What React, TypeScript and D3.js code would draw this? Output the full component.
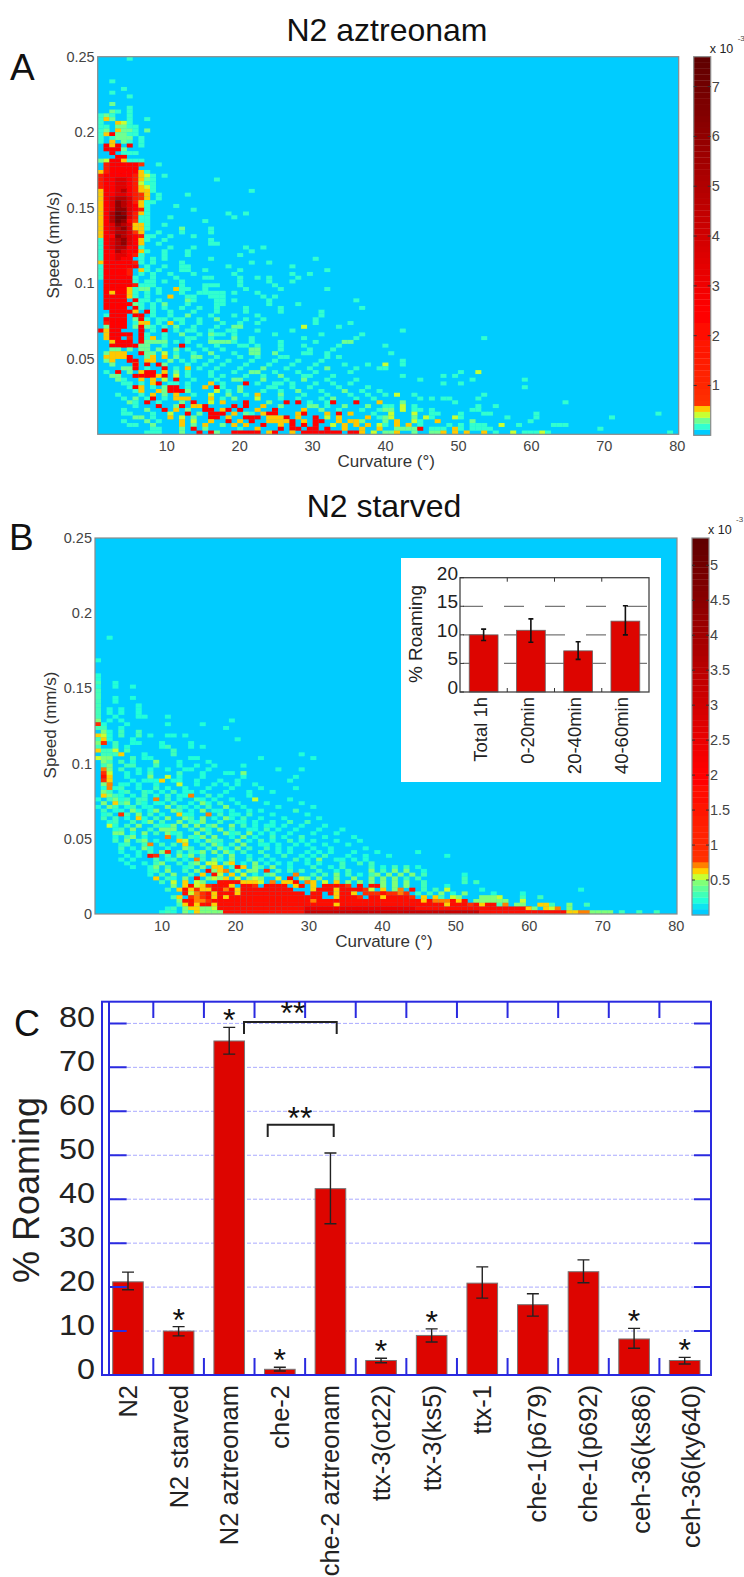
import React from 'react';
import * as d3 from 'd3';

// heatmap rows, top row first. each row is "column:levels" pieces, '.' leaves a cell empty
const aztreonamRows = [
  "5:1", "", "", "", "", "", "2:1", "", "4:1", "2:1",
  "5:1", "", "2:2", "5:1", "2:21.1", "0:121..1", "0:142..1..1", "0:1..431", "0:11.2211", "0:12.4221.2",
  "0:1472211", "0:1.1222.1", "0:1.4.21.1", "1:747.7.1", "1:7772", "2:7.111", "3:77", "0:23774111", "0:.6777775..1", "0:.677777",
  "0:46777774 8:1", "0:6777776431 11:1", "0:6778876421 20:1", "0:6778876311", "0:6778876431 9:1", "0:4778976441 26:1", "0:477887654 10:1 15:1", "0:478998654 10:1", "0:478a98641 9:1", "0:478a98741 13:1",
  "0:478aa8761 16:1", "0:479ba8641 22:1 25:1", "0:479bb8611 12:1 23:1", "0:479ba7511 18:1", "0:478a98441 11:1", "0:4789a8441 14:2 19:1", "0:47899854 10:1 14:1 19:1", "0:477a987611 12:1 16:1", "0:1789a8741 11:1 19:1", "0:1789a874 10:1 19:11",
  "0:17899771 12:1 16:1 25:1 28:1", "0:177987741 11:1 15:1 26:1", "0:17788764 7:1 11:1 15:1 24:1", "0:177877 7:1 9:1 11:1 19:1 37:1", "0:477777 6:61 9:1 14:1 26:1 29:1", "0:177777 6:7 8:1 11:1 14:11 22:1 33:1", "0:17777 5:6 7:41 10:1 14:11 18:1 24:1 39:1", "0:177776 7:1.1 12:1 16:1 23:1 33:1 36:1", "0:177777 6:1..1 13:1 18:11 24:1 27:1 29:1 34:1", "0:.77777 6:1.11 11:1 14:1 24:1 29:1 33:1",
  "0:.77777 6:611 9:1 14:1 18:11 20:1 24:1 30:1", "0:.7777 5:4 6:1 7:22 10:1 13:4 14:11 18:1 25:1 31:1 39:1", "0:.7477 5:4 6:1 8:1 10:1 14:1 17:11111 23:1 27:1", "0:.7777 5:4 6:1 8:1 12:4 15:11 19:111 28:1 30:1", "0:.7777 6:71 8:1 10:1 15:21 20:11 23:1 29:1 44:1", "0:.77777 6:21 9:1 11:2 15:1 20:11 29:1 34:1", "0:.7777 6:71 9:1 11:1 14:1 17:1 20:1 25:1 31:1 45:1", "0:..7777 6:4.71 9:1 12:1 16:1 20:1 25:1 31:1 38:1", "0:.1777 6:7 7:7 9:1 12:1 15:2 19:1 23:1 27:1 38:1", "0:.7777 6:271 10:1 11:1 13:11 17:1 20:2 25:1 28:1 37:1",
  "0:.6777 6:144 10:1 12:4 14:1 17:1 21:1 24:1 27:1 37:1 43:1", "0:.2777 6:27 8:21 11:1 13:2 16:1 20:1 23:22 35:3 41:1", "0:7477 6:.7.1 11:7 13:1 15:11 19:1 22:11 27:1 33:1 52:1", "0:.47777 7:71 11:1 14:2 17:1 19:211 23:1 30:1 38:1 45:1", "0:.477 5:6 7:714 11:1 15:11 19:1 23:2 26:1 35:1 44:1 66:1", "0:..4777 6:.72 9:222 13:1 15:1 19:2222 23:1 26:1 31:1 37:1 42:22", "0:..7777 6:7 7:22 11:1 14:7 17:1 20:1 24:11 27:1 31:1 35:1 41:1 49:1", "0:..22 5:2 7:22 10:2 13:2 15:1 18:1 21:1 26:22 31:1 36:1 40:1", "0:.2444 7:7 8:22 11:3 13:1 16:1 19:2 23:1 26:22 30:2 35:11 39:1 50:1", "0:.444 4:4 5:7 8:24 11:4 13:2 16:22 20:1 24:1 27:1 31:11 39:1 41:1",
  "1:24 4:.77 8:4 9:4 12:2 14:1 16:1 19:1 22:1 26:1 30:1 34:1 38:1 52:1", "2:2 5:.4 6:7.7 9:.7 11:2 15:1 18:1 21:1 25:1 29:1 33:1 37:1 42:1 46:1 49:3 52:1", "3:.2 5:2 6:7 8:1 10:.7.1 15:4 17:1 20:1 24:1 28:2 32:1 36:1 39:2 44:1 48:11", "1:1.7 5:2 7:4 8:77 11:4 13:2 15:1 19:1 23:1 26:22 30:1 34:1 37:1 43:1 62:1 65:3", "2:22 6:77 8:7 9:74 11:7 13:3 15:1 19:1 21:1 25:1 28:1 31:2 35:1 36:1 40:1 52:1 59:1 61:1", "3:21 7:4 9:4 11:3 13:7 16:1 20:1 23:22 28:2 32:1 35:2 39:1 44:1 55:1 64:1 73:1", "4:11 7:1.3 9:47 12:11 15:1 19:4 21:1 25:7 27:1 30:11 33:1 37:1 40:1 43:1 59:1 62:1", "5:1 6:7 7:4 9:1 11:2 12:77 15:1 18:4 20:71 24:2 29:11 33:1 36:1 41:1 46:1 73:1", "6:1 7:4 9:.4 11:2 12:777 15:2 20:3 22:1 24:2 28:1 31:1 34:2 38:1 42:2 45:1 48:1", "3:1 7:1 9:4 11:2 13:4 16:1 19:3 22:2 25:1 27:4 31:2 35:1 39:1 43:1 46:1 49:1 51:3 54:1 66:1",
  "4:1 6:2 8:1 9:7 11:1 13:444 19:4 21:1 23:2 27:3 31:1 34:1 38:1 40:2 44:1 47:1 55:1 57:1 59:11 65:1", "5:21 8:7 10:1 14:2 16:7 19:3 21:4 25:7 29:2 32:7 34:7 36:1 39:1 40:7 44:7 48:4 52:2 61:1 80:1", "6:1 10:7 13:2 14:7 16:44 18:7 22:.7 25:7 28:4 31:2 36:22 39:1 42:2 46:2 49:11 52:3 54:1 65:1 68:1", "4:1 7:.2 11:7 13:4 15:2 18:77 21:47 24:7 27:4 30:7 35:4 38:2 41:1 45:1 48:1 49:22 52:3 54:1 55:1 57:1 64:11", "4:11 9:1 12:3 15:7 17:2 19:777 23:4 25:2 26:1 28:4 29:77 33:.4 35:7 39:4 41:7 43:4 47:1 50:3 54:3 57:1 58:1 62:1 66:11 75:1 96:1", "6:22 9:1 12:4 14:3 16:2 19:77 22:4 25:7 26:77 29:444 32:7 34:4 37:7 39:3 41:4 46:4 48:1 49:2 50:3 54:2 56:3 57:1 61:3 62:1 70:1 75:1 88:1", "4:1 8:2 10:1 14:4 16:3 19:4 22:7 24:4 26:7 29:4444 33:7 35:4 37:77 41:4 43:44 45:2 49:2 51:4 54:3 55:1 58:4 64:2 74:1", "5:11 9:2 14:4 16:2 18:4 21:2 23:4 25:4 28:7 31:4 33:7 35:7 37:7 40:3 42:4 44:4 46:4 48:3 49:1 51:4 53:4 55:1 60:1 62:1 64:111 69:3 72:1 78:111", "9:1 10:1 14:2 16:7 18:2 24:1 27:4 31:7 33:77 36:77 39:7 42:4 45:4 48:4 51:2 52:222 55:7 57:111 61:4 62:1 64:1111 86:1", "8:111 14:2 17:7 19:7 20:2 23:777 26:77 29:4 30:7 33:4 35:7777 39:777 43:77 45:4 47:3 49:22 51:4 54:2 57:22 59:4 61:4 63:4 66:4 68:1 71:3 73:111 76:3 77:1 98:1",
];

const starvedRows = [
  ...Array(26).fill(""),
  "2:1", "", "", "", "", "", "0:1", "", "", "",
  "0:1", "0:1", "0:2 3:1", "0:1 3:1 6:1", "0:2", "0:2", "0:2 3:1 6:1", "0:2 3:1", "0:2 7:1", "0:2 2:1 4:1 7:1",
  "0:2 2:1 4:1 7:1", "0:2 3:1 7:11 12:1", "0:3 2:1 4:1 23:1", "0:7 1:1 5:1 12:1 18:1", "0:2 1:2 4:1 22:1", "1:3 2:1 4:2 7:2", "0:5 1:4 2:1 4:2 7:2 9:1 12:11 15:1", "0:2 1:5 2:1 6:1 24:1", "0:3 1:7 3:2 6:11 11:1 16:1", "0:2 3:2 5:1 11:1 12:2 16:1 18:1",
  "0:5 1:2 2:2 3:4 5:2 13:2", "1:2 2:2 3:2 4:5 8:1 13:2 35:1", "0:4 1:3 2:3 6:2 8:11 16:11 28:1 37:1", "1:3 2:2 4:2 6:1 10:3 14:1 19:1", "1:2 2:3 5:22 10:2 14:1 17:1 20:1 25:1", "1:6 2:3 4:2 7:1 9:1 12:1 15:11 19:1 31:1 35:1", "1:7 2:4 5:1 7:1 9:2 14:2 18:1 22:11 25:3", "1:8 2:5 5:1 9:3 12:4 14:1 18:1 25:1 34:1", "1:7 2:5 6:1 8:11 10:1 11:5 13:11 17:1 21:1 24:1 33:1", "1:3 2:6 4:11 7:1 10:1 14:4 17:1 20:1 22:1 24:1 27:1",
  "1:1 2:6 3:1 4:2 7:1 10:2 12:1 15:1 19:1 23:1 28:1 34:1", "1:32.12 8:21 11:1.2 15:11 18:1 22:1 26:1 30:1", "1:5321 6:1.2 10:1 12:2.1 15:1 16:6 19:2 21:1 26:1", "0:1.2312 7:2 8:2.6 12:2 14:1 17:21 20:1 23:1 27:4 33:1", "1:3.523 7:21 10:11 13:2 16:1 18:31 21:2 24:1 29:1 35:1", "0:1.32.1 6:2.11 12:3 14:21 17:1 19:2 22:3 25:1 31:1 37:1", "1:2.11 6:31.1 10:3 13:32 16:1 18:3 20:11 23:1 26:1 28:1 34:2", "1:12 4:72 7:3 9:2 11:1 14:51 16:1 19:6 21:2 23:11 26:2 30:1 36:1", "1:2.2 5:1 7:51 10:2 12:3 15:32 18:3 20:1 22:31 25:2 28:1 32:1 38:1", "2:12 6:2 8:13 11:2 14:3 16:21 18:3 21:2 24:11 27:1 30:1 33:2 36:2",
  "2:41 5:2 7:3 10:21 12:13 15:3 17:3 19:23 23:3 25:2 27:1 29:11 32:1 35:1 39:1", "3:12 6:3 9:2 11:33 13:3 16:2 18:31 21:3 23:2 26:11 29:2 31:1 34:1 38:1 42:1", "3:33 6:1 8:3 10:2 12:31 14:2 17:3 19:2 22:31 24:2 26:3 28:1 30:1 33:1 37:1 41:1", "3:1 5:23 8:1 12:6 14:2 16:21 18:3 20:3 23:1 25:3 27:1 30:2 32:1 35:2 39:1 44:1", "3:2 5:3 7:23 10:1 14:54 17:1 19:32 21:2 24:3 26:1 28:2 30:1 33:2 35:1 37:1 41:1 45:1", "4:12 8:2 9:6 11:2 13:2 15:5 18:2 20:31 23:2 25:3 28:11 31:1 34:1 36:1 39:1 43:1", "4:2 6:1 8:31 12:1 15:32 19:2 21:31 24:3 26:2 29:2 31:1 33:1 37:1 40:1 46:1", "4:1 7:1 9:2 11:3 12:7 14:2 16:21 18:3 20:3 22:31 25:2 28:2 31:1 33:1 36:1 38:1 40:1 44:1 48:1 55:1", "5:1 7:1 9:8 10:7 12:2 14:31 16:3 18:2 21:2 23:3 26:1 29:2 32:2 35:1 37:1 39:2 43:1 46:1 50:1 60:1", "4:1 6:1 10:2 12:1 13:2 15:1 17:6 18:2 20:3 21:1 23:3 26:2 28:1 30:1 34:2 36:1 38:3 41:1 42:1 44:1 46:1",
  "5:1 8:1 10:2 11:3 14:2 16:2 17:3 19:4 20:4 22:3 23:5 25:1 27:3 29:1 31:1 33:1 36:1 38:1 42:2 45:2 47:2", "6:1 9:1 10:3 12:2 15:1 16:2 18:3 20:5 21:5 23:2 24:8 25:5 27:3 28:2 30:3 33:1 37:2 40:1 42:2 47:2 49:1 51:2 53:2 55:1", "9:1 10:2 12:3 15:2 17:3 19:8 20:3 21:5 22:6 24:3 26:3 27:3 29:7 31:2 33:2 35:2 38:2 41:1 43:2 47:3 49:2 51:3 53:3 56:1", "9:1 11:2 13:3 16:2 18:5 20:8 21:4 23:5 25:4 27:1 29:2 30:3 34:6 37:2 39:2 41:3 43:2 45:1 47:2 48:3 50:3 52:3 54:3 56:2 63:1", "10:5 12:2 13:1 15:3 17:8 19:3 20:4 21:3 22:5 24:4 26:3 27:4 28:3 31:4 33:8 35:4 36:3 38:3 41:3 44:3 47:3 49:3 51:3 53:2 55:2 63:2", "11:2 13:4 15:5 17:4 18:3 21:888 24:8 25:5 26:5 27:5 28:4 30:6 32:5 33:5 34:8 36:6 37:5 39:4 41:5 43:3 45:3 47:3 49:3 51:3 53:3 56:2 63:2 65:2", "13:3 15:5 16:8 17:4 18:5 19:7 20:888 23:5 25:88 27:7 29:8888 34:5 35:8 37:5 39:888 42:8 43:7 45:8 47:8 48:8 49:3 51:3 53:3 56:2 60:1", "12:2 14:5 15:8 16:5 17:7 18:5 19:5 20:88 22:6 23:8 24:5 25:8888888 32:88 37:5 38:88 40:8 41:5 42:8888 46:7 47:4 49:5 51:3 52:6 54:8 56:2 58:2 60:4 66:1 83:1", "15:8 16:4 17:6 18:7 19:8 20:5 21:888 24:5 25:88888888888 37:8 38:8 40:8 41:5 42:88 44:5 46:7777 49:8 50:77 52:6 53:7 55:2 57:2 59:3 61:1 63:3 68:1 73:1",
  "13:2 14:5 16:7 17:6 18:7 19:8 20:5 21:8 22:5 23:8888888888888888 41:5 42:888 45:7 47:888 49:5 50:8888 54:7 56:5 58:5 59:2 61:4 62:3 66:333 69:4 73:2 76:2", "14:3 15:8 16:8 17:6 18:6 19:7 20:8 21:8888888888888888888888888 37:6 46:8888 50:8888888 56:5 57:8 58:6 59:66 61:8 62:5 63:8 65:3 66:3 67:3 68:3 69:3 70:3 73:4", "14:2 15:5 16:8 17:5 18:8 19:8 20:5 21:88888888888888888888888888888888888888 41:5 59:8 60:5 61:888 64:7 65:8 66:5 67:8 68:8 69:2 70:6 72:3 73:3 76:5 77:5 78:2 81:3 84:2", "12:1 13:2 15:3 16:5 17:5 18:3 19:3 20:4 21:888888888888888 36:9999999999999999999 55:88888888888888888888 74:5 75:3 77:5 78:4 79:6 81:3", "11:1 12:2 13:1 15:3 16:1 17:5 18:3 19:3 20:3 21:3 22:88888888888888 36:aaaaaaaaaaaaaaaaaaaaaaaaaaaaaa 66:888888888888888 81:55 83:6 84:6 85:333 88:3 90:2 93:2 96:2",
];

const levelChars = '.123456789ab';
// value of each level char, in units of 1e-3
const aztreonamLevels = [0, 0.15, 0.27, 0.39, 0.5, 0.7, 1.5, 2.6, 3.5, 4.8, 6, 7];
const starvedLevels = [0, 0.2, 0.3, 0.45, 0.53, 0.62, 0.7, 0.9, 1.7, 2.4, 3.2, 4.2];

const aztreonamMax = 7.6;
const starvedMax = 5.39;
const aztreonamBarTicks = [1, 2, 3, 4, 5, 6, 7];
const starvedBarTicks = [0.5, 1, 1.5, 2, 2.5, 3, 3.5, 4, 4.5, 5];
const speedTicks = [0.05, 0.1, 0.15, 0.2, 0.25];
const starvedSpeedTicks = [0, 0.05, 0.1, 0.15, 0.2, 0.25];
const curvatureTicks = [10, 20, 30, 40, 50, 60, 70, 80];

const insetCategories = ['Total 1h', '0-20min', '20-40min', '40-60min'];
const insetValues = [10, 10.8, 7.2, 12.4];
const insetHigh = [11, 12.8, 8.8, 15.1];
const insetLow = [9, 8.7, 5.7, 10];
const insetTicks = [0, 5, 10, 15, 20];

const strains = ['N2', 'N2 starved', 'N2 aztreonam', 'che-2', 'che-2 aztreonam', 'ttx-3(ot22)', 'ttx-3(ks5)', 'ttx-1', 'che-1(p679)', 'che-1(p692)', 'ceh-36(ks86)', 'ceh-36(ky640)'];
const roaming = [21.2, 10, 76, 1.3, 42.4, 3.3, 9, 20.9, 16, 23.5, 8.2, 3.3];
const roamingHigh = [23.4, 11, 79.1, 1.75, 50.5, 3.8, 10.5, 24.6, 18.5, 26.2, 10.6, 4];
const roamingLow = [19.4, 8.9, 73, 0.9, 34.4, 2.8, 7.5, 17.5, 13.4, 21, 6.1, 2.5];
const starred = ['N2 starved', 'N2 aztreonam', 'che-2', 'ttx-3(ot22)', 'ttx-3(ks5)', 'ceh-36(ks86)', 'ceh-36(ky640)'];
const roamingTicks = [0, 10, 20, 30, 40, 50, 60, 70, 80];

const FONT = '"Liberation Sans", Arial, sans-serif';
const TICK_COLOR = '#444';
const BAR_RED = '#dd0500';
const BLUE = '#2a2ae0';

// 64 step colormap, first few bands are picked by hand off the colorbars
function makeColormap(lowBands: string[], redAt: number) {
  const rest = d3.scaleLinear<string>()
    .domain([lowBands.length, redAt, 63])
    .range(['#ff3000', '#ff0000', '#600000']);
  return d3.range(64).map(i => i < lowBands.length ? lowBands[i] : rest(i));
}
const aztreonamColors = makeColormap(['#00ccff', '#30ffd0', '#70ff90', '#c8ff30', '#ffc800'], 21);
const starvedColors = makeColormap(['#00ccff', '#10e4f0', '#20ffd8', '#40ffb8', '#60ff98', '#80ff78', '#c8ff30', '#ffd000', '#ff8000'], 24);

function parseRows(rows: string[], levels: number[]) {
  const cells: { row: number; col: number; value: number }[] = [];
  rows.forEach((r, row) => {
    r.split(' ').filter(Boolean).forEach(piece => {
      const [start, chars] = piece.split(':');
      chars.split('').forEach((ch, i) => {
        if (ch !== '.') cells.push({ row, col: +start + i, value: levels[levelChars.indexOf(ch)] });
      });
    });
  });
  return cells;
}

function Heatmap({ rows, levels, colors, max, x0, x1, y0, y1, xDomain, speedLabels, barTicks, xLabelY, speedX, speedMidY }: any) {
  const cols = d3.scaleBand<number>().domain(d3.range(100)).range([x0, x1]);
  const rws = d3.scaleBand<number>().domain(d3.range(100)).range([y0, y1]);
  const xScale = d3.scaleLinear().domain(xDomain).range([x0, x1]);
  const yScale = d3.scaleLinear().domain([0, 0.25]).range([y1, y0]);
  const color = d3.scaleQuantize<string>().domain([0, max]).range(colors);
  const barX = x1 + 15;
  const barW = 17;
  const barScale = d3.scaleLinear().domain([0, max]).range([y1 + 1, y0]);
  const cells = parseRows(rows, levels);
  const step = max / 64;
  return (
    <g fontFamily={FONT}>
      <g filter="url(#soft)">
        <rect x={x0} y={y0} width={x1 - x0} height={y1 - y0} fill="#00ccff" />
        {cells.map((c, i) => (
          <rect key={i} x={cols(c.col)} y={rws(c.row)} width={cols.bandwidth() + 0.2} height={rws.bandwidth() + 0.2} fill={color(c.value)} />
        ))}
        {colors.map((c: string, i: number) => (
          <rect key={i} x={barX} width={barW} y={barScale((i + 1) * step)} height={barScale(i * step) - barScale((i + 1) * step) + 0.3} fill={c} />
        ))}
      </g>
      <rect x={x0} y={y0} width={x1 - x0} height={y1 - y0} fill="none" stroke="#8a8a8a" strokeWidth={1.2} />
      <rect x={barX} y={y0} width={barW} height={y1 + 1 - y0} fill="none" stroke="#8a8a8a" strokeWidth={1.2} />
      {barTicks.map((t: number) => (
        <g key={t}>
          <line x1={barX} x2={barX + 3} y1={barScale(t)} y2={barScale(t)} stroke="#333" />
          <line x1={barX + barW - 3} x2={barX + barW} y1={barScale(t)} y2={barScale(t)} stroke="#333" />
          <text x={barX + barW + 1} y={barScale(t) + 5} fontSize={14.5} fill={TICK_COLOR}>{t}</text>
        </g>
      ))}
      <text x={barX + 16} y={y0 - 4} fontSize={12.5} fill="#222">x 10</text>
      <text x={barX + 44} y={y0 - 16} fontSize={8} fill="#444">-3</text>
      {speedLabels.map((t: number) => (
        <text key={t} x={x0 - 3} y={yScale(t) + 5} textAnchor="end" fontSize={14.5} fill={TICK_COLOR}>{t}</text>
      ))}
      {curvatureTicks.map(t => (
        <text key={t} x={xScale(t)} y={xLabelY} textAnchor="middle" fontSize={14.5} fill={TICK_COLOR}>{t}</text>
      ))}
      <text x={(x0 + x1) / 2 - 2} y={xLabelY + 16} textAnchor="middle" fontSize={17} fill="#333">Curvature (°)</text>
      <text transform={`translate(${speedX},${speedMidY}) rotate(-90)`} textAnchor="middle" fontSize={17} fill="#333">Speed (mm/s)</text>
    </g>
  );
}

function Inset() {
  const x = d3.scaleBand<string>().domain(insetCategories).range([460, 649]).paddingInner(0.39).paddingOuter(0.195);
  const y = d3.scaleLinear().domain([0, 20]).range([692, 577.7]);
  const edges = insetCategories.slice(1).map(c => x(c)! - x.step() * 0.195);
  return (
    <g fontFamily={FONT}>
      <rect x={401} y={558} width={260} height={224} fill="#fff" />
      {[5, 10, 15].map(t => (
        <line key={t} x1={460} x2={649} y1={y(t)} y2={y(t)} stroke="#777" strokeWidth={1.2} strokeDasharray="20 21" strokeDashoffset={-3} />
      ))}
      {insetCategories.map((c, i) => {
        const cx = x(c)! + x.bandwidth() / 2;
        return (
          <g key={c}>
            <rect x={x(c)} y={y(insetValues[i])} width={x.bandwidth()} height={y(0) - y(insetValues[i])} fill={BAR_RED} stroke="#666" strokeWidth={0.8} />
            <path d={`M${cx - 2.5},${y(insetHigh[i])}h5M${cx},${y(insetHigh[i])}V${y(insetLow[i])}M${cx - 2.5},${y(insetLow[i])}h5`} stroke="#111" strokeWidth={1.6} fill="none" />
            <text transform={`translate(${cx + 3},697) rotate(-90)`} textAnchor="end" fontSize={18.5} fill="#222">{c}</text>
          </g>
        );
      })}
      <rect x={460} y={577.7} width={189} height={114.3} fill="none" stroke="#444" strokeWidth={1.3} />
      {edges.map(e => (
        <path key={e} d={`M${e},577.7v4M${e},692v-4`} stroke="#333" />
      ))}
      {insetTicks.map(t => (
        <g key={t}>
          <line x1={460} x2={464} y1={y(t)} y2={y(t)} stroke="#333" />
          <text x={458} y={y(t) + 2} textAnchor="end" fontSize={19} fill="#222">{t}</text>
        </g>
      ))}
      <text transform="translate(422,634) rotate(-90)" textAnchor="middle" fontSize={19} fill="#222">% Roaming</text>
    </g>
  );
}

function RoamingBars() {
  const left = 102;
  const right = 711;
  const top = 1001.7;
  const bottom = 1375;
  const x = d3.scaleBand<string>().domain(strains).range([102.7, 710]).paddingInner(0.395).paddingOuter(0.1975);
  const y = d3.scaleLinear().domain([0, 80]).range([bottom, 1023.4]);
  const edges = strains.slice(1).map(s => x(s)! - x.step() * 0.1975);
  // the last labels sit a bit to the right of their bars in the figure
  const labelNudge = (s: string) => s.startsWith('che-1') ? 4.5 : s.startsWith('ceh-36') ? 6.5 : 0;
  return (
    <g fontFamily={FONT}>
      {roamingTicks.slice(1).map(t => (
        <line key={t} x1={109} x2={694} y1={y(t)} y2={y(t)} stroke="#aaaaff" strokeWidth={1} strokeDasharray="4 2" />
      ))}
      {strains.map((s, i) => {
        const cx = x(s)! + x.bandwidth() / 2;
        return (
          <g key={s}>
            <rect x={x(s)} y={y(roaming[i])} width={x.bandwidth()} height={bottom - y(roaming[i])} fill={BAR_RED} stroke="#777" strokeWidth={1} />
            <path d={`M${cx - 6},${y(roamingHigh[i])}h12M${cx},${y(roamingHigh[i])}V${y(roamingLow[i])}M${cx - 6},${y(roamingLow[i])}h12`} stroke="#222" strokeWidth={1.4} fill="none" />
            {starred.includes(s) && (
              <text x={cx} y={y(roamingHigh[i]) + 4} textAnchor="middle" fontSize={32} fill="#111">*</text>
            )}
            <text transform={`translate(${cx + 9 + labelNudge(s)},1385) rotate(-90)`} textAnchor="end" fontSize={25.5} fill="#222">{s}</text>
          </g>
        );
      })}
      <rect x={left} y={top} width={right - left} height={bottom - top} fill="none" stroke={BLUE} strokeWidth={2} />
      <line x1={109} x2={109} y1={top} y2={bottom} stroke={BLUE} strokeWidth={2} />
      {edges.map(e => (
        <path key={e} d={`M${e},${top}V1018M${e},${bottom}V1358`} stroke={BLUE} strokeWidth={2} />
      ))}
      {roamingTicks.slice(1).map(t => (
        <path key={t} d={`M109,${y(t)}H126.7M694,${y(t)}H711`} stroke={BLUE} strokeWidth={2} />
      ))}
      {roamingTicks.map(t => (
        <text key={t} x={95} y={y(t) + 4} textAnchor="end" fontSize={29} fill="#222"
          textLength={t === 0 ? 18 : 36} lengthAdjust="spacingAndGlyphs">{t}</text>
      ))}
      <text transform="translate(39,1190) rotate(-90)" textAnchor="middle" fontSize={36} fill="#222">% Roaming</text>
      <path d="M244,1034V1022H336.7V1034" fill="none" stroke="#222" strokeWidth={2} />
      <text x={293} y={1024} textAnchor="middle" fontSize={32} fill="#111">**</text>
      <path d="M267.7,1137V1124.7H333.7V1137" fill="none" stroke="#222" strokeWidth={2} />
      <text x={300} y={1129} textAnchor="middle" fontSize={32} fill="#111">**</text>
    </g>
  );
}

export default function App() {
  return (
    <svg width={744} height={1577} style={{ position: 'absolute', left: 0, top: 0 }}>
      <defs>
        <filter id="soft" x="0" y="0" width="1" height="1">
          <feGaussianBlur stdDeviation="0.45" />
        </filter>
      </defs>
      <rect width={744} height={1577} fill="#fff" />
      <text x={387} y={41} textAnchor="middle" fontFamily={FONT} fontSize={32} fill="#111">N2 aztreonam</text>
      <text x={384} y={517} textAnchor="middle" fontFamily={FONT} fontSize={32} fill="#111">N2 starved</text>
      <text x={10} y={80} fontFamily={FONT} fontSize={37} fill="#111">A</text>
      <text x={9} y={550} fontFamily={FONT} fontSize={37} fill="#111">B</text>
      <text x={14} y={1036} fontFamily={FONT} fontSize={36} fill="#111">C</text>
      <Heatmap rows={aztreonamRows} levels={aztreonamLevels} colors={aztreonamColors} max={aztreonamMax}
        x0={97.7} x1={678.7} y0={56.7} y1={434.3} xDomain={[0.53, 80.2]} speedLabels={speedTicks}
        barTicks={aztreonamBarTicks} xLabelY={451} speedX={59} speedMidY={245} />
      <Heatmap rows={starvedRows} levels={starvedLevels} colors={starvedColors} max={starvedMax}
        x0={95} x1={677} y0={538} y1={914} xDomain={[0.88, 80.1]} speedLabels={starvedSpeedTicks}
        barTicks={starvedBarTicks} xLabelY={931} speedX={56} speedMidY={725} />
      <Inset />
      <RoamingBars />
    </svg>
  );
}
